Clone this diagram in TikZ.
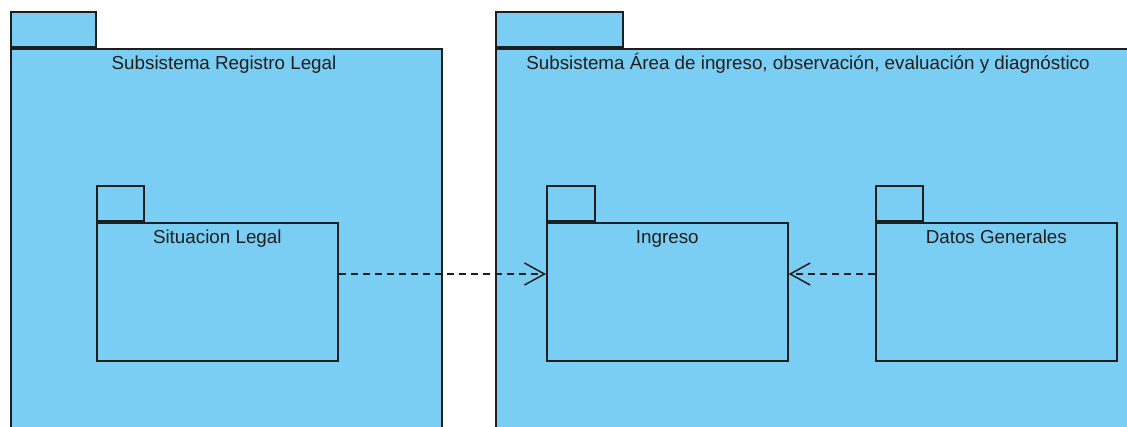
\documentclass[tikz,border=0pt]{standalone}
\usepackage{fontspec}
\setmainfont{Liberation Sans}
\usetikzlibrary{arrows.meta,calc}
\definecolor{pkgfill}{RGB}{122,206,243}
\definecolor{pkgline}{RGB}{30,30,30}
\tikzset{
  pkgbody/.style={draw=pkgline, fill=pkgfill, line width=1.6pt, rectangle,
    inner sep=0pt, anchor=north west},
  pkgtab/.style={draw=pkgline, fill=pkgfill, line width=1.6pt, rectangle,
    inner sep=0pt, anchor=south west},
  pkglabel/.style={anchor=base, inner sep=0pt,
    font=\fontsize{18.8}{22}\selectfont, text=pkgline},
  dep/.style={draw=pkgline, line width=1.5pt, dash pattern=on 7pt off 5pt,
    -{Straight Barb[length=20pt,width=22pt,line width=1.5pt]}}
}
\begin{document}
\begin{tikzpicture}[x=1pt,y=-1pt]
  \clip (0,0) rectangle (1127,426);
  \useasboundingbox (0,0) rectangle (1127,426);
  \fill[white] (0,0) rectangle (1127,426);

  % outer package: Registro Legal
  \node[pkgbody, minimum width=431pt, minimum height=400pt] (rl) at (10,48) {};
  \node[pkgtab, minimum width=85pt, minimum height=35pt] (rltab) at (rl.north west) {};
  \node[pkglabel] (rllbl) at ($(rl.north west)+(214,21)$) {Subsistema Registro Legal};

  % outer package: Area de ingreso
  \node[pkgbody, minimum width=645pt, minimum height=400pt] (ar) at (495,48) {};
  \node[pkgtab, minimum width=127pt, minimum height=35pt] (artab) at (ar.north west) {};
  \node[pkglabel] (arlbl) at ($(ar.north west)+(313,21)$)
    {Subsistema Área de ingreso, observación, evaluación y diagnóstico};

  % inner package: Situacion Legal
  \node[pkgbody, minimum width=241pt, minimum height=138pt] (sit) at (96,222) {};
  \node[pkgtab, minimum width=47pt, minimum height=35pt] (sittab) at (sit.north west) {};
  \node[pkglabel] (sitlbl) at ($(sit.north)+(0,21)$) {Situacion Legal};

  % inner package: Ingreso
  \node[pkgbody, minimum width=241pt, minimum height=138pt] (ing) at (546,222) {};
  \node[pkgtab, minimum width=48pt, minimum height=35pt] (ingtab) at (ing.north west) {};
  \node[pkglabel] (inglbl) at ($(ing.north)+(0,21)$) {Ingreso};

  % inner package: Datos Generales
  \node[pkgbody, minimum width=241pt, minimum height=138pt] (dat) at (875,222) {};
  \node[pkgtab, minimum width=47pt, minimum height=35pt] (dattab) at (dat.north west) {};
  \node[pkglabel] (datlbl) at ($(dat.north)+(0,21)$) {Datos Generales};

  % dependencies
  \draw[dep] ($(sit.north east)+(0,52)$) -- ($(ing.north west)+(0,52)$);
  \draw[dep] ($(dat.north west)+(0,52)$) -- ($(ing.north east)+(0,52)$);
\end{tikzpicture}
\end{document}
